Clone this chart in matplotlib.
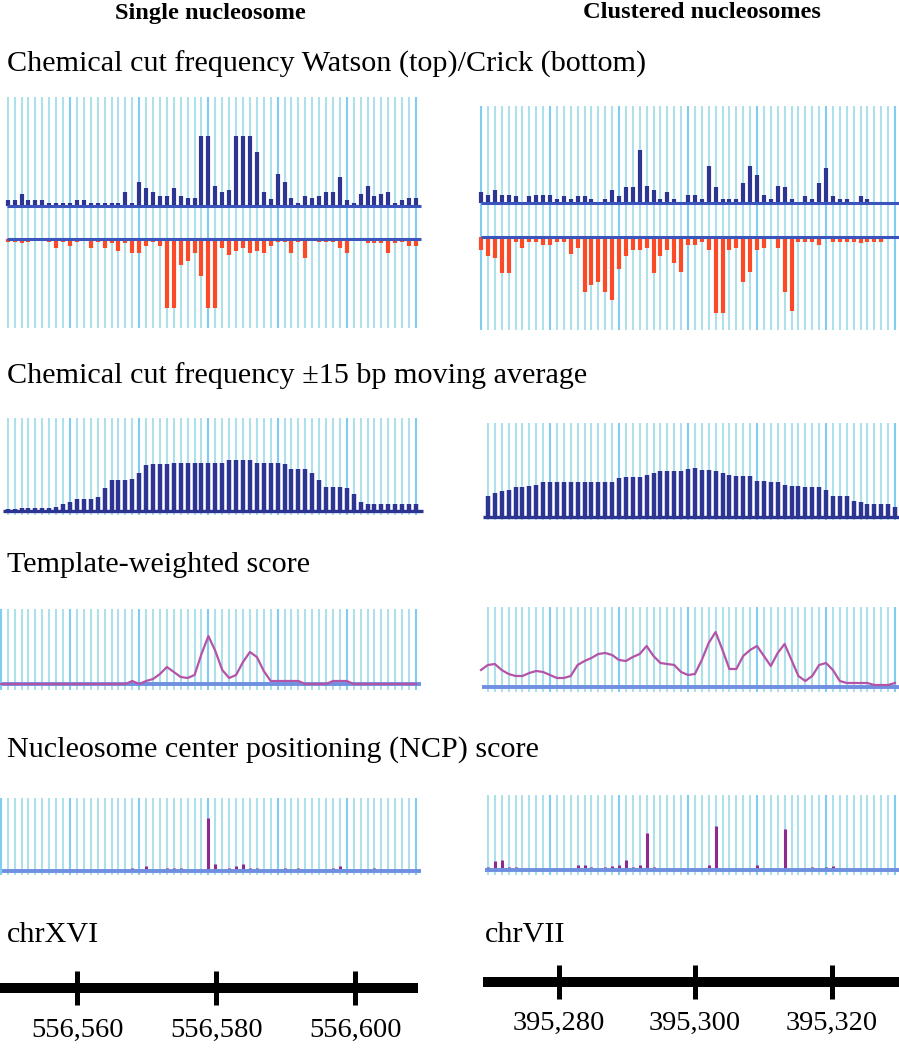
import matplotlib

matplotlib.use("Agg")
import matplotlib.pyplot as plt

W, H = 899, 1050
SERIF = ["Liberation Serif", "DejaVu Serif"]

GRID_LIGHT = "#ade0e8"
GRID_DARK = "#7fcdf0"
WATSON = "#2c3591"
CRICK = "#fb4a28"
BASE_P1 = "#3b55bd"
BASE_LIGHT = "#6f90e0"
TEMPLATE = "#b453a8"
NCP = "#8c2a8e"

# ---- genomic windows (bp)
LEFT_POS = list(range(556551, 556611))
LEFT_POS_WIDE = list(range(556550, 556611))
RIGHT_POS = list(range(395270, 395331))
RIGHT_POS_NARROW = list(range(395271, 395331))

# ---- chemical cut frequency, single nucleosome (chrXVI 556,551-556,610)
watson_left = [6, 6, 12, 6, 6, 6, 3, 3, 3, 3, 6, 6, 3, 3, 3, 3, 3, 14, 3, 24,
               18, 14, 10, 10, 18, 10, 8, 8, 70, 70, 20, 14, 16, 70, 70, 70, 54, 14, 7, 32,
               24, 8, 3, 10, 8, 10, 14, 14, 29, 6, 3, 12, 20, 10, 12, 14, 3, 6, 8, 8]
crick_left = [3, 3, 4, 3, 0, 0, 3, 9, 3, 7, 3, 0, 9, 3, 9, 4, 12, 4, 14, 14,
              7, 3, 7, 69, 69, 26, 22, 14, 37, 69, 69, 9, 16, 12, 9, 14, 12, 14, 7, 3,
              3, 14, 3, 19, 0, 3, 3, 3, 9, 14, 0, 0, 4, 4, 4, 14, 4, 3, 7, 7]

# ---- chemical cut frequency, clustered nucleosomes (chrVII 395,270-395,330)
watson_right = [11, 8, 13, 8, 8, 7, 0, 7, 8, 8, 8, 4, 7, 4, 7, 7, 4, 0, 4, 13,
                7, 16, 16, 53, 17, 13, 4, 11, 4, 0, 8, 8, 4, 37, 16, 4, 4, 4, 20, 37,
                28, 8, 4, 17, 16, 4, 0, 7, 4, 20, 35, 7, 4, 4, 0, 7, 4, 0, 0, 0, 0]
crick_right = [13, 19, 21, 36, 36, 5, 11, 5, 5, 8, 8, 5, 5, 17, 11, 55, 48, 45, 55, 63,
               32, 19, 13, 13, 11, 36, 19, 13, 26, 35, 8, 8, 5, 13, 76, 76, 13, 11, 45, 35,
               13, 11, 0, 11, 55, 74, 5, 5, 5, 8, 0, 5, 5, 5, 5, 6, 5, 5, 5, 0, 0]

# ---- +/-15 bp moving average
avg_left = [2, 2, 3, 3, 3, 3, 3, 4, 7, 9, 12, 12, 12, 14, 23, 31, 31, 31, 32, 38,
            46, 47, 47, 47, 48, 48, 48, 48, 48, 48, 48, 48, 51, 51, 51, 51, 48, 48, 48, 48,
            47, 42, 42, 42, 38, 31, 24, 24, 24, 23, 17, 9, 7, 7, 7, 7, 7, 7, 7, 7]
avg_right = [21, 24, 26, 27, 30, 30, 31, 32, 35, 35, 35, 35, 35, 35, 35, 35, 35, 35, 35, 39,
             40, 40, 40, 42, 44, 46, 46, 46, 46, 48, 49, 47, 47, 46, 44, 42, 41, 41, 41, 36,
             36, 35, 35, 32, 31, 31, 30, 30, 30, 27, 21, 21, 21, 16, 15, 13, 13, 13, 13, 10]

# ---- template-weighted score
template_left = [0, 0, 0, 0, 0, 0, 0, 0, 0, 0, 0, 0, 0, 0, 0, 0, 0, 0, 0, 3,
                 0, 3, 5, 10, 17, 12, 7, 6, 9, 30, 48, 33, 14, 6, 9, 22, 32, 27, 13, 3,
                 3, 3, 3, 3, 0, 0, 0, 0, 3, 3, 3, 0, 0, 0, 0, 0, 0, 0, 0, 0, 0]
template_right = [17, 22, 23, 17, 13, 11, 11, 14, 16, 15, 12, 9, 9, 11, 22, 26, 29, 33, 34, 32,
                  27, 26, 30, 33, 41, 31, 24, 23, 22, 15, 12, 13, 27, 44, 55, 37, 18, 18, 31, 37,
                  41, 31, 21, 34, 43, 27, 11, 6, 11, 22, 24, 17, 6, 4, 4, 4, 4, 2, 2, 2, 4]

# ---- NCP score (only non-zero positions)
ncp_left_pos = [556569, 556571, 556574, 556575, 556576, 556580, 556581, 556583, 556584,
                556585, 556586, 556587, 556591, 556593, 556598, 556599, 556604]
ncp_left = [3.5, 5, 3.5, 3.5, 3.5, 53, 7, 3.5, 5, 7, 3.5, 3.5, 3.5, 3.5, 3.5, 5, 3.5]
ncp_right_pos = [395271, 395272, 395273, 395274, 395275, 395284, 395285, 395286, 395288,
                 395289, 395290, 395291, 395292, 395293, 395294, 395295, 395303, 395304,
                 395310, 395314, 395318, 395320, 395321]
ncp_right = [3, 9, 10, 3, 3.5, 5, 5, 3.5, 3, 4.5, 5, 10, 3.5, 5, 37, 3, 5, 44, 5, 41, 3, 3.5, 4.5]

# ---- chromosome rulers
left_ticks = [556560, 556580, 556600]
right_ticks = [395280, 395300, 395320]

fig = plt.figure(figsize=(W / 100, H / 100), dpi=100)

SIDES = {
    "L": dict(x0=0, x1=430, ref_px=70, ref_pos=556560, step=6.92),
    "R": dict(x0=470, x1=899, ref_px=550, ref_pos=395280, step=6.9),
}


def px_axes(x0, y0, x1, y1):
    ax = fig.add_axes([x0 / W, 1 - y1 / H, (x1 - x0) / W, (y1 - y0) / H])
    ax.axis("off")
    return ax


def to_pos(side, px):
    s = SIDES[side]
    return s["ref_pos"] + (px - s["ref_px"]) / s["step"]


def panel(side, top, bottom, base, grid_pos, span):
    s = SIDES[side]
    ax = px_axes(s["x0"], top, s["x1"], bottom)
    ax.set_xlim(to_pos(side, s["x0"]), to_pos(side, s["x1"]))
    ax.set_ylim(base - bottom, base - top)
    light = [p for p in grid_pos if p % 10]
    dark = [p for p in grid_pos if p % 10 == 0]
    tr = ax.get_xaxis_transform()
    ax.vlines(light, 0, 1, transform=tr, color=GRID_LIGHT, lw=1.5, zorder=1)
    ax.vlines(dark, 0, 1, transform=tr, color=GRID_DARK, lw=1.5, zorder=1)
    ax.span = (to_pos(side, span[0]), to_pos(side, span[1]))
    return ax


def bars(ax, pos, vals, color, lw, y0=0, down=False):
    tops = [y0 - v if down else y0 + v for v in vals]
    ax.vlines(pos, y0, tops, color=color, lw=lw, capstyle="butt", zorder=2)


def baseline(ax, y, color, lw):
    ax.hlines(y, *ax.span, color=color, lw=lw, zorder=3)


# --- Watson / Crick
ax = panel("L", 97, 328, 206, LEFT_POS, (7, 421))
bars(ax, LEFT_POS, watson_left, WATSON, 3.0)
bars(ax, LEFT_POS, crick_left, CRICK, 3.0, y0=-33, down=True)
baseline(ax, 0, BASE_P1, 2.2)
baseline(ax, -33, BASE_P1, 2.2)

ax = panel("R", 106, 330, 203, RIGHT_POS, (481, 899))
bars(ax, RIGHT_POS, watson_right, WATSON, 3.0)
bars(ax, RIGHT_POS, crick_right, CRICK, 3.0, y0=-34, down=True)
baseline(ax, 0, BASE_P1, 2.2)
baseline(ax, -34, BASE_P1, 2.2)

# --- moving average
ax = panel("L", 418, 515, 511, LEFT_POS, (3, 423))
bars(ax, LEFT_POS, avg_left, WATSON, 3.2)
baseline(ax, 0, WATSON, 2.4)

ax = panel("R", 423, 520, 517, RIGHT_POS_NARROW, (483, 899))
bars(ax, RIGHT_POS_NARROW, avg_right, WATSON, 3.2)
baseline(ax, 0, WATSON, 2.4)

# --- template-weighted score
ax = panel("L", 609, 690, 684, LEFT_POS_WIDE, (2, 421))
baseline(ax, 0, BASE_LIGHT, 2.8)
ax.plot(LEFT_POS_WIDE, template_left, color=TEMPLATE, lw=1.6, zorder=4)

ax = panel("R", 607, 692, 687, RIGHT_POS_NARROW, (482, 899))
baseline(ax, 0, BASE_LIGHT, 2.8)
ax.plot(RIGHT_POS, template_right, color=TEMPLATE, lw=1.6, zorder=4)

# --- NCP score
ax = panel("L", 798, 875, 871, LEFT_POS_WIDE, (2, 421))
bars(ax, ncp_left_pos, ncp_left, NCP, 2.2)
baseline(ax, 0, BASE_LIGHT, 2.8)

ax = panel("R", 795, 875, 870, RIGHT_POS_NARROW, (485, 899))
bars(ax, ncp_right_pos, ncp_right, NCP, 2.2)
baseline(ax, 0, BASE_LIGHT, 2.8)


# --- chromosome rulers (y in pixels)
def ruler(x0, x1, ref_px, ref_pos, step, bar_y, label_y, ticks):
    ax = px_axes(x0, 950, x1, 1050)
    ax.set_xlim(ref_pos + (x0 - ref_px) / step, ref_pos + (x1 - ref_px) / step)
    ax.set_ylim(1050, 950)
    ax.axhline(bar_y, color="black", lw=7.2, solid_capstyle="butt")
    ax.vlines(ticks, bar_y - 17, bar_y + 17, color="black", lw=3.6)
    for t in ticks:
        ax.text(t, label_y, f"{t:,}", ha="center", va="center",
                fontsize=20.5, family=SERIF, clip_on=False)


ruler(0, 418, 216.3, 556580, 6.95, 988, 1030, left_ticks)
ruler(483, 899, 695, 395300, 6.825, 982, 1023, right_ticks)

# --- text
def ftext(x, y, s, **kw):
    kw.setdefault("fontsize", 21.7)
    fig.text(x / W, 1 - y / H, s, family=SERIF, va="center", **kw)


ftext(210, 13, "Single nucleosome", ha="center", fontsize=17.6, fontweight="bold")
ftext(702, 13, "Clustered nucleosomes", ha="center", fontsize=17.6, fontweight="bold")
ftext(7, 64, "Chemical cut frequency Watson (top)/Crick (bottom)")
ftext(7, 376, "Chemical cut frequency \u00b115 bp moving average")
ftext(7, 565, "Template-weighted score")
ftext(7, 750, "Nucleosome center positioning (NCP) score")
ftext(7, 935, "chrXVI")
ftext(485, 935, "chrVII")

fig.savefig("out.png", dpi=100, facecolor="white")
